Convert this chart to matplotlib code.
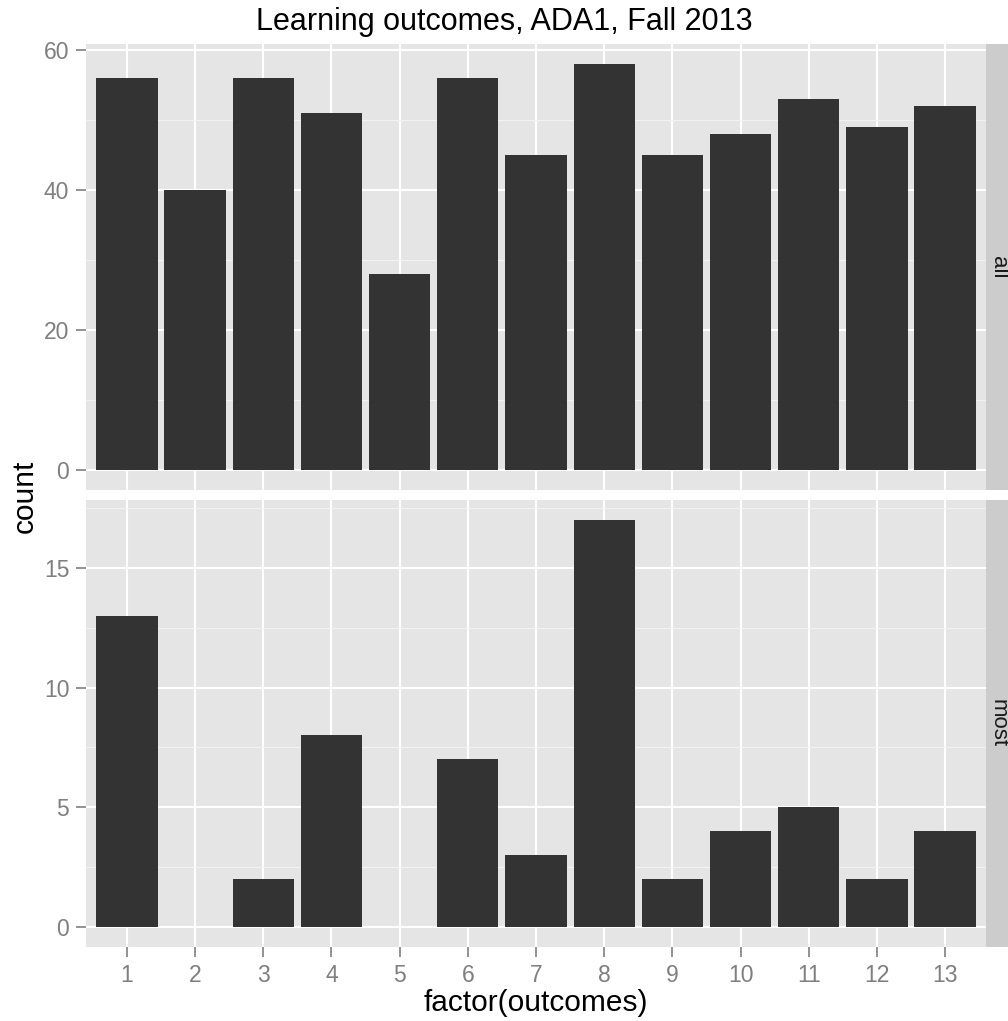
import matplotlib
matplotlib.use("Agg")
import matplotlib.pyplot as plt
from matplotlib.ticker import FixedLocator

plt.rcParams['font.family'] = ['Liberation Sans', 'DejaVu Sans']

# data
outcomes = ["1", "2", "3", "4", "5", "6", "7", "8", "9", "10", "11", "12", "13"]
count_all = [56, 40, 56, 51, 28, 56, 45, 58, 45, 48, 53, 49, 52]
count_most = [13, 0, 2, 8, 0, 7, 3, 17, 2, 4, 5, 2, 4]
facet_names = ["all", "most"]
yticks_all = [0, 20, 40, 60]
yticks_most = [0, 5, 10, 15]
yminor_all = [10, 30, 50]
yminor_most = [2.5, 7.5, 12.5, 17.5]

W, H = 1008, 1021
fig = plt.figure(figsize=(W / 100, H / 100), dpi=100)

def box(x0, y0, x1, y1):
    # pixel box (top-left origin) -> figure fraction rect
    return [x0 / W, 1 - y1 / H, (x1 - x0) / W, (y1 - y0) / H]

panel_left, panel_right = 86, 986
panels = [(44, 490), (500, 947)]
data = [count_all, count_most]
yticks = [yticks_all, yticks_most]
yminor = [yminor_all, yminor_most]

grey50 = "#7F7F7F"
xpos = list(range(1, len(outcomes) + 1))

for i, (top, bot) in enumerate(panels):
    ax = fig.add_axes(box(panel_left, top, panel_right, bot))
    ax.set_facecolor("#E5E5E5")
    vals = data[i]
    ymax = max(vals)
    ax.set_ylim(-0.05 * ymax, ymax * 1.05)
    ax.set_xlim(0.4, len(outcomes) + 0.6)
    ax.bar(xpos, vals, width=0.9, color="#333333", zorder=3)

    ax.yaxis.set_major_locator(FixedLocator(yticks[i]))
    ax.yaxis.set_minor_locator(FixedLocator(yminor[i]))
    ax.set_xticks(xpos)
    ax.grid(which="major", color="white", linewidth=1.5, zorder=1)
    ax.grid(which="minor", axis="y", color="#F2F2F2", linewidth=0.8, zorder=1)
    ax.set_axisbelow(True)
    for s in ax.spines.values():
        s.set_visible(False)
    ax.tick_params(which="minor", length=0)
    ax.tick_params(which="major", colors=grey50, labelsize=16.5, length=7, width=1.2, pad=5)

    if i == 0:
        ax.tick_params(axis="x", length=0, labelbottom=False)
    else:
        ax.set_xticklabels(outcomes)

    # facet strip on the right
    sx = fig.add_axes(box(986, top, 1014, bot))
    sx.set_facecolor("#CCCCCC")
    sx.set_xticks([])
    sx.set_yticks([])
    for s in sx.spines.values():
        s.set_visible(False)
    fig.text(998 / W, 1 - (top + bot) / 2 / H, facet_names[i], rotation=-90,
             ha="center", va="center", fontsize=16, color="#1A1A1A")

fig.text(504 / W, 1 - 22 / H, "Learning outcomes, ADA1, Fall 2013",
         ha="center", va="center", fontsize=22)
fig.text(536 / W, 1 - 1003 / H, "factor(outcomes)", ha="center", va="center", fontsize=21.5)
fig.text(25 / W, 1 - 496 / H, "count", rotation=90, ha="center", va="center", fontsize=21.5)

fig.savefig("out.png", dpi=100)
